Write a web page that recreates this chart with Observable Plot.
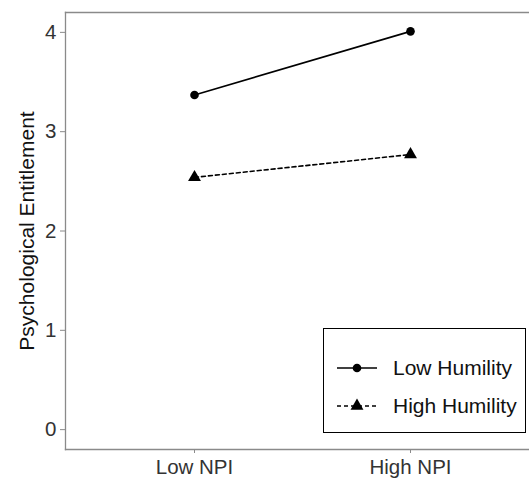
<!DOCTYPE html>
<html>
<head>
<meta charset="utf-8">
<script src="https://cdn.jsdelivr.net/npm/d3@7"></script>
<script src="https://cdn.jsdelivr.net/npm/@observablehq/plot@0.6"></script>
<style>
  html, body { margin: 0; padding: 0; background: #fff; overflow: hidden; }
  #wrap { position: relative; width: 529px; height: 478px; font-family: "Liberation Sans", Arial, sans-serif; }
  #legend { position: absolute; left: 323px; top: 328px; width: 201px; height: 103px; border: 1.5px solid #000; background: #fff; }
</style>
</head>
<body>
<div id="wrap"></div>
<script>
const npiLevels = ["Low NPI", "High NPI"];
const groups = ["Low Humility", "High Humility"];
const lowHumility = [3.37, 4.01];
const highHumility = [2.54, 2.77];
const yTicks = [0, 1, 2, 3, 4];
const yLabel = "Psychological Entitlement";

const rows = [];
npiLevels.forEach((n, i) => {
  rows.push({npi: n, group: groups[0], value: lowHumility[i]});
  rows.push({npi: n, group: groups[1], value: highHumility[i]});
});
const lowRows = rows.filter(d => d.group === groups[0]);
const highRows = rows.filter(d => d.group === groups[1]);

const axisGrey = "#8a8a8a";
const textCol = "#333";

const chart = Plot.plot({
  width: 529,
  height: 478,
  marginLeft: 65,
  marginTop: 12,
  marginBottom: 29,
  marginRight: 0,
  style: {fontFamily: "Liberation Sans, Arial, sans-serif", fontSize: "20px", background: "#fff", overflow: "hidden"},
  x: {type: "point", domain: npiLevels, range: [194, 410], padding: 0, label: null},
  y: {domain: [-0.2, 4.2], label: null},
  marks: [
    Plot.frame({anchor: "top", stroke: axisGrey, strokeWidth: 1.3}),
    Plot.frame({anchor: "bottom", stroke: axisGrey, strokeWidth: 1.3}),
    Plot.frame({anchor: "left", stroke: axisGrey, strokeWidth: 1.3}),
    Plot.axisY(yTicks, {tickSize: 5, tickPadding: 4, stroke: axisGrey, fill: textCol, fontSize: 20.5, label: null, tickFormat: d => String(d)}),
    Plot.axisX({tickSize: 4, tickPadding: 6, stroke: axisGrey, fill: textCol, fontSize: 20.5, label: null}),
    Plot.text([yLabel], {frameAnchor: "left", rotate: -90, dx: -38, fontSize: 21, fill: "#111", textAnchor: "middle", lineAnchor: "middle"}),
    Plot.line(lowRows, {x: "npi", y: "value", stroke: "#000", strokeWidth: 1.6}),
    Plot.line(highRows, {x: "npi", y: "value", stroke: "#000", strokeWidth: 1.6, strokeDasharray: "4,3"}),
    Plot.dot(lowRows, {x: "npi", y: "value", symbol: "circle", r: 4.3, fill: "#000"}),
    Plot.dot(highRows, {x: "npi", y: "value", symbol: "triangle", r: 4.8, fill: "#000"})
  ]
});
const wrap = document.getElementById("wrap");
wrap.appendChild(chart);

// legend
const legend = document.createElement("div");
legend.id = "legend";
wrap.appendChild(legend);
const ls = d3.select(legend).append("svg").attr("width", 201).attr("height", 103)
  .style("font-family", "Liberation Sans, Arial, sans-serif").style("font-size", "21px");
const items = [
  {label: groups[0], symbol: d3.symbolCircle, size: Math.PI * 4.3 * 4.3, dash: null},
  {label: groups[1], symbol: d3.symbolTriangle, size: Math.PI * 4.8 * 4.8, dash: "4,3"}
];
items.forEach((it, i) => {
  const cy = 39 + i * 38;
  ls.append("line").attr("x1", 13).attr("x2", 53).attr("y1", cy).attr("y2", cy)
    .attr("stroke", "#000").attr("stroke-width", 1.6).attr("stroke-dasharray", it.dash);
  ls.append("path").attr("d", d3.symbol(it.symbol, it.size)()).attr("transform", `translate(33,${cy})`).attr("fill", "#000");
  ls.append("text").attr("x", 69).attr("y", cy).attr("dy", "0.35em").attr("fill", "#111").text(it.label);
});
</script>
</body>
</html>
